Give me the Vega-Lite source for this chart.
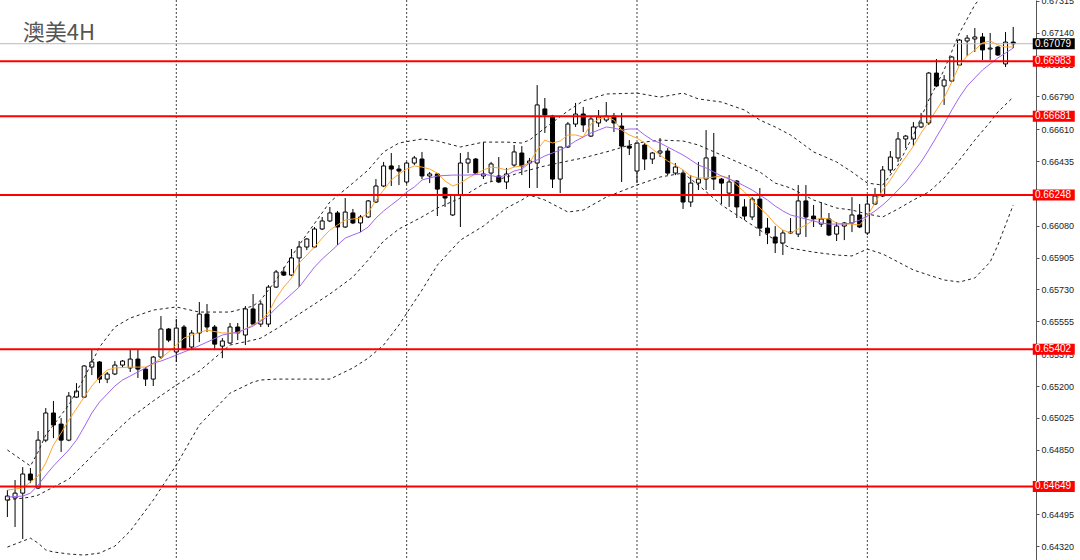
{
  "$schema": "https://vega.github.io/schema/vega-lite/v6.json",
  "width": 1036,
  "height": 560,
  "autosize": {"type": "none"},
  "padding": {"left": 0, "top": 0, "right": 44, "bottom": 0},
  "background": "white",
  "config": {"view": {"stroke": null}},
  "resolve": {"axis": {"y": "independent", "x": "independent"}},
  "datasets": {
    "candles": [
      {"i":0,"o":0.64574,"h":0.64629,"l":0.64481,"c":0.64596},
      {"i":1,"o":0.64585,"h":0.64684,"l":0.64426,"c":0.64612},
      {"i":2,"o":0.64612,"h":0.64755,"l":0.64360,"c":0.64717},
      {"i":3,"o":0.64717,"h":0.64750,"l":0.64667,"c":0.64684},
      {"i":4,"o":0.64640,"h":0.64953,"l":0.64634,"c":0.64903},
      {"i":5,"o":0.64903,"h":0.65079,"l":0.64892,"c":0.65052},
      {"i":6,"o":0.65052,"h":0.65118,"l":0.64914,"c":0.64986},
      {"i":7,"o":0.64991,"h":0.65024,"l":0.64838,"c":0.64903},
      {"i":8,"o":0.64903,"h":0.65167,"l":0.64897,"c":0.65145},
      {"i":9,"o":0.65139,"h":0.65216,"l":0.65134,"c":0.65172},
      {"i":10,"o":0.65139,"h":0.65315,"l":0.65134,"c":0.65310},
      {"i":11,"o":0.65304,"h":0.65403,"l":0.65260,"c":0.65332},
      {"i":12,"o":0.65332,"h":0.65337,"l":0.65216,"c":0.65238},
      {"i":13,"o":0.65238,"h":0.65277,"l":0.65216,"c":0.65266},
      {"i":14,"o":0.65266,"h":0.65337,"l":0.65260,"c":0.65315},
      {"i":15,"o":0.65315,"h":0.65343,"l":0.65304,"c":0.65337},
      {"i":16,"o":0.65299,"h":0.65403,"l":0.65277,"c":0.65348},
      {"i":17,"o":0.65348,"h":0.65403,"l":0.65244,"c":0.65293},
      {"i":18,"o":0.65293,"h":0.65304,"l":0.65200,"c":0.65238},
      {"i":19,"o":0.65238,"h":0.65365,"l":0.65200,"c":0.65359},
      {"i":20,"o":0.65359,"h":0.65584,"l":0.65348,"c":0.65513},
      {"i":21,"o":0.65513,"h":0.65518,"l":0.65441,"c":0.65452},
      {"i":22,"o":0.65387,"h":0.65568,"l":0.65332,"c":0.65518},
      {"i":23,"o":0.65524,"h":0.65535,"l":0.65397,"c":0.65403},
      {"i":24,"o":0.65414,"h":0.65507,"l":0.65397,"c":0.65491},
      {"i":25,"o":0.65491,"h":0.65661,"l":0.65441,"c":0.65595},
      {"i":26,"o":0.65595,"h":0.65650,"l":0.65496,"c":0.65524},
      {"i":27,"o":0.65524,"h":0.65535,"l":0.65397,"c":0.65430},
      {"i":28,"o":0.65419,"h":0.65463,"l":0.65353,"c":0.65447},
      {"i":29,"o":0.65436,"h":0.65546,"l":0.65430,"c":0.65524},
      {"i":30,"o":0.65524,"h":0.65546,"l":0.65452,"c":0.65491},
      {"i":31,"o":0.65480,"h":0.65639,"l":0.65425,"c":0.65623},
      {"i":32,"o":0.65623,"h":0.65705,"l":0.65535,"c":0.65540},
      {"i":33,"o":0.65540,"h":0.65667,"l":0.65524,"c":0.65650},
      {"i":34,"o":0.65540,"h":0.65754,"l":0.65524,"c":0.65743},
      {"i":35,"o":0.65743,"h":0.65837,"l":0.65738,"c":0.65826},
      {"i":36,"o":0.65826,"h":0.65853,"l":0.65804,"c":0.65809},
      {"i":37,"o":0.65809,"h":0.65952,"l":0.65804,"c":0.65903},
      {"i":38,"o":0.65903,"h":0.65996,"l":0.65743,"c":0.65963},
      {"i":39,"o":0.65963,"h":0.66012,"l":0.65946,"c":0.66007},
      {"i":40,"o":0.65963,"h":0.66073,"l":0.65957,"c":0.66062},
      {"i":41,"o":0.66062,"h":0.66128,"l":0.66056,"c":0.66106},
      {"i":42,"o":0.66106,"h":0.66183,"l":0.66100,"c":0.66150},
      {"i":43,"o":0.66150,"h":0.66161,"l":0.65974,"c":0.66073},
      {"i":44,"o":0.66073,"h":0.66232,"l":0.66068,"c":0.66155},
      {"i":45,"o":0.66150,"h":0.66172,"l":0.66089,"c":0.66095},
      {"i":46,"o":0.66095,"h":0.66139,"l":0.66045,"c":0.66128},
      {"i":47,"o":0.66128,"h":0.66221,"l":0.66122,"c":0.66216},
      {"i":48,"o":0.66210,"h":0.66336,"l":0.66205,"c":0.66298},
      {"i":49,"o":0.66298,"h":0.66430,"l":0.66292,"c":0.66408},
      {"i":50,"o":0.66408,"h":0.66479,"l":0.66298,"c":0.66391},
      {"i":51,"o":0.66391,"h":0.66413,"l":0.66303,"c":0.66380},
      {"i":52,"o":0.66320,"h":0.66430,"l":0.66309,"c":0.66424},
      {"i":53,"o":0.66424,"h":0.66463,"l":0.66413,"c":0.66452},
      {"i":54,"o":0.66446,"h":0.66485,"l":0.66336,"c":0.66353},
      {"i":55,"o":0.66353,"h":0.66375,"l":0.66314,"c":0.66364},
      {"i":56,"o":0.66364,"h":0.66369,"l":0.66133,"c":0.66281},
      {"i":57,"o":0.66287,"h":0.66292,"l":0.66183,"c":0.66232},
      {"i":58,"o":0.66139,"h":0.66254,"l":0.66133,"c":0.66248},
      {"i":59,"o":0.66248,"h":0.66479,"l":0.66073,"c":0.66424},
      {"i":60,"o":0.66424,"h":0.66485,"l":0.66369,"c":0.66446},
      {"i":61,"o":0.66446,"h":0.66452,"l":0.66364,"c":0.66369},
      {"i":62,"o":0.66353,"h":0.66539,"l":0.66336,"c":0.66364},
      {"i":63,"o":0.66369,"h":0.66430,"l":0.66320,"c":0.66419},
      {"i":64,"o":0.66353,"h":0.66457,"l":0.66314,"c":0.66320},
      {"i":65,"o":0.66320,"h":0.66397,"l":0.66281,"c":0.66364},
      {"i":66,"o":0.66413,"h":0.66523,"l":0.66402,"c":0.66485},
      {"i":67,"o":0.66479,"h":0.66517,"l":0.66358,"c":0.66408},
      {"i":68,"o":0.66424,"h":0.66452,"l":0.66287,"c":0.66435},
      {"i":69,"o":0.66424,"h":0.66852,"l":0.66287,"c":0.66743},
      {"i":70,"o":0.66721,"h":0.66781,"l":0.66589,"c":0.66688},
      {"i":71,"o":0.66682,"h":0.66688,"l":0.66287,"c":0.66336},
      {"i":72,"o":0.66336,"h":0.66512,"l":0.66259,"c":0.66512},
      {"i":73,"o":0.66512,"h":0.66649,"l":0.66506,"c":0.66638},
      {"i":74,"o":0.66638,"h":0.66754,"l":0.66622,"c":0.66693},
      {"i":75,"o":0.66693,"h":0.66732,"l":0.66594,"c":0.66633},
      {"i":76,"o":0.66572,"h":0.66682,"l":0.66567,"c":0.66666},
      {"i":77,"o":0.66644,"h":0.66715,"l":0.66622,"c":0.66677},
      {"i":78,"o":0.66660,"h":0.66759,"l":0.66649,"c":0.66682},
      {"i":79,"o":0.66682,"h":0.66699,"l":0.66594,"c":0.66644},
      {"i":80,"o":0.66627,"h":0.66699,"l":0.66320,"c":0.66517},
      {"i":81,"o":0.66517,"h":0.66550,"l":0.66468,"c":0.66506},
      {"i":82,"o":0.66380,"h":0.66534,"l":0.66314,"c":0.66534},
      {"i":83,"o":0.66523,"h":0.66534,"l":0.66386,"c":0.66446},
      {"i":84,"o":0.66446,"h":0.66485,"l":0.66419,"c":0.66479},
      {"i":85,"o":0.66479,"h":0.66561,"l":0.66457,"c":0.66490},
      {"i":86,"o":0.66490,"h":0.66506,"l":0.66358,"c":0.66369},
      {"i":87,"o":0.66369,"h":0.66424,"l":0.66358,"c":0.66402},
      {"i":88,"o":0.66369,"h":0.66386,"l":0.66172,"c":0.66210},
      {"i":89,"o":0.66210,"h":0.66358,"l":0.66183,"c":0.66314},
      {"i":90,"o":0.66314,"h":0.66430,"l":0.66276,"c":0.66336},
      {"i":91,"o":0.66336,"h":0.66605,"l":0.66276,"c":0.66452},
      {"i":92,"o":0.66457,"h":0.66589,"l":0.66276,"c":0.66336},
      {"i":93,"o":0.66336,"h":0.66342,"l":0.66199,"c":0.66314},
      {"i":94,"o":0.66259,"h":0.66358,"l":0.66183,"c":0.66320},
      {"i":95,"o":0.66325,"h":0.66331,"l":0.66122,"c":0.66183},
      {"i":96,"o":0.66183,"h":0.66226,"l":0.66111,"c":0.66133},
      {"i":97,"o":0.66128,"h":0.66237,"l":0.66111,"c":0.66226},
      {"i":98,"o":0.66226,"h":0.66287,"l":0.66023,"c":0.66067},
      {"i":99,"o":0.66067,"h":0.66122,"l":0.65979,"c":0.66040},
      {"i":100,"o":0.66018,"h":0.66078,"l":0.65930,"c":0.65985},
      {"i":101,"o":0.65985,"h":0.66056,"l":0.65919,"c":0.66040},
      {"i":102,"o":0.66040,"h":0.66122,"l":0.66034,"c":0.66045},
      {"i":103,"o":0.66034,"h":0.66303,"l":0.66018,"c":0.66216},
      {"i":104,"o":0.66216,"h":0.66303,"l":0.66018,"c":0.66128},
      {"i":105,"o":0.66133,"h":0.66194,"l":0.66073,"c":0.66117},
      {"i":106,"o":0.66089,"h":0.66210,"l":0.66073,"c":0.66117},
      {"i":107,"o":0.66117,"h":0.66150,"l":0.66023,"c":0.66029},
      {"i":108,"o":0.66034,"h":0.66100,"l":0.65996,"c":0.66078},
      {"i":109,"o":0.66078,"h":0.66100,"l":0.66001,"c":0.66095},
      {"i":110,"o":0.66095,"h":0.66237,"l":0.66045,"c":0.66139},
      {"i":111,"o":0.66139,"h":0.66199,"l":0.66067,"c":0.66073},
      {"i":112,"o":0.66040,"h":0.66248,"l":0.66029,"c":0.66199},
      {"i":113,"o":0.66199,"h":0.66287,"l":0.66194,"c":0.66243},
      {"i":114,"o":0.66243,"h":0.66408,"l":0.66237,"c":0.66386},
      {"i":115,"o":0.66386,"h":0.66490,"l":0.66369,"c":0.66457},
      {"i":116,"o":0.66452,"h":0.66594,"l":0.66430,"c":0.66556},
      {"i":117,"o":0.66556,"h":0.66578,"l":0.66506,"c":0.66572},
      {"i":118,"o":0.66556,"h":0.66649,"l":0.66517,"c":0.66622},
      {"i":119,"o":0.66622,"h":0.66699,"l":0.66616,"c":0.66644},
      {"i":120,"o":0.66644,"h":0.66924,"l":0.66633,"c":0.66918},
      {"i":121,"o":0.66918,"h":0.66995,"l":0.66841,"c":0.66847},
      {"i":122,"o":0.66847,"h":0.66907,"l":0.66743,"c":0.66880},
      {"i":123,"o":0.66874,"h":0.67012,"l":0.66869,"c":0.67006},
      {"i":124,"o":0.66962,"h":0.67105,"l":0.66957,"c":0.67099},
      {"i":125,"o":0.67094,"h":0.67127,"l":0.67012,"c":0.67110},
      {"i":126,"o":0.67105,"h":0.67165,"l":0.67034,"c":0.67116},
      {"i":127,"o":0.67116,"h":0.67138,"l":0.66990,"c":0.67045},
      {"i":128,"o":0.67050,"h":0.67138,"l":0.66990,"c":0.67055},
      {"i":129,"o":0.67061,"h":0.67066,"l":0.67012,"c":0.67017},
      {"i":130,"o":0.66968,"h":0.67143,"l":0.66951,"c":0.67088},
      {"i":131,"o":0.67088,"h":0.67171,"l":0.67055,"c":0.67079}
    ],
    "fast": [
      {"i":0,"v":0.64629},{"i":2,"v":0.64640},{"i":4,"v":0.64706},{"i":5,"v":0.64777},{"i":6,"v":0.64876},{"i":7,"v":0.64942},{"i":8,"v":0.65013},{"i":10,"v":0.65139},{"i":11,"v":0.65200},{"i":12,"v":0.65249},{"i":13,"v":0.65288},{"i":14,"v":0.65299},{"i":16,"v":0.65304},{"i":18,"v":0.65304},{"i":19,"v":0.65321},{"i":20,"v":0.65353},{"i":21,"v":0.65387},{"i":22,"v":0.65425},{"i":23,"v":0.65463},{"i":24,"v":0.65480},{"i":26,"v":0.65507},{"i":28,"v":0.65491},{"i":30,"v":0.65491},{"i":32,"v":0.65535},{"i":33,"v":0.65562},{"i":34,"v":0.65601},{"i":35,"v":0.65683},{"i":36,"v":0.65743},{"i":37,"v":0.65793},{"i":38,"v":0.65875},{"i":40,"v":0.65963},{"i":41,"v":0.66012},{"i":42,"v":0.66056},{"i":43,"v":0.66084},{"i":44,"v":0.66111},{"i":45,"v":0.66117},{"i":46,"v":0.66122},{"i":47,"v":0.66150},{"i":48,"v":0.66221},{"i":49,"v":0.66276},{"i":50,"v":0.66331},{"i":51,"v":0.66364},{"i":52,"v":0.66391},{"i":53,"v":0.66408},{"i":54,"v":0.66402},{"i":55,"v":0.66391},{"i":56,"v":0.66369},{"i":57,"v":0.66325},{"i":58,"v":0.66298},{"i":59,"v":0.66314},{"i":60,"v":0.66342},{"i":61,"v":0.66364},{"i":62,"v":0.66386},{"i":63,"v":0.66402},{"i":64,"v":0.66397},{"i":65,"v":0.66386},{"i":66,"v":0.66402},{"i":67,"v":0.66408},{"i":68,"v":0.66424},{"i":69,"v":0.66496},{"i":70,"v":0.66550},{"i":71,"v":0.66534},{"i":72,"v":0.66545},{"i":73,"v":0.66578},{"i":74,"v":0.66578},{"i":75,"v":0.66567},{"i":76,"v":0.66638},{"i":77,"v":0.66666},{"i":78,"v":0.66677},{"i":79,"v":0.66660},{"i":80,"v":0.66605},{"i":81,"v":0.66578},{"i":82,"v":0.66561},{"i":83,"v":0.66534},{"i":84,"v":0.66501},{"i":85,"v":0.66468},{"i":86,"v":0.66435},{"i":87,"v":0.66413},{"i":88,"v":0.66386},{"i":89,"v":0.66353},{"i":90,"v":0.66342},{"i":91,"v":0.66342},{"i":92,"v":0.66347},{"i":93,"v":0.66353},{"i":94,"v":0.66342},{"i":95,"v":0.66303},{"i":96,"v":0.66265},{"i":97,"v":0.66221},{"i":98,"v":0.66177},{"i":99,"v":0.66139},{"i":100,"v":0.66089},{"i":101,"v":0.66056},{"i":102,"v":0.66040},{"i":103,"v":0.66062},{"i":104,"v":0.66084},{"i":105,"v":0.66111},{"i":106,"v":0.66122},{"i":107,"v":0.66117},{"i":108,"v":0.66095},{"i":109,"v":0.66089},{"i":110,"v":0.66089},{"i":111,"v":0.66084},{"i":112,"v":0.66133},{"i":113,"v":0.66205},{"i":114,"v":0.66276},{"i":115,"v":0.66331},{"i":116,"v":0.66397},{"i":117,"v":0.66457},{"i":118,"v":0.66517},{"i":119,"v":0.66589},{"i":120,"v":0.66649},{"i":121,"v":0.66715},{"i":122,"v":0.66781},{"i":123,"v":0.66869},{"i":124,"v":0.66962},{"i":125,"v":0.67012},{"i":126,"v":0.67045},{"i":127,"v":0.67083},{"i":128,"v":0.67094},{"i":129,"v":0.67072},{"i":130,"v":0.67061},{"i":131,"v":0.67061}
    ],
    "slow": [
      {"i":0,"v":0.64590},{"i":2,"v":0.64596},{"i":3,"v":0.64612},{"i":4,"v":0.64656},{"i":5,"v":0.64711},{"i":6,"v":0.64761},{"i":7,"v":0.64805},{"i":8,"v":0.64849},{"i":9,"v":0.64903},{"i":10,"v":0.64975},{"i":11,"v":0.65052},{"i":12,"v":0.65112},{"i":13,"v":0.65156},{"i":14,"v":0.65200},{"i":15,"v":0.65233},{"i":16,"v":0.65255},{"i":17,"v":0.65277},{"i":18,"v":0.65299},{"i":19,"v":0.65326},{"i":20,"v":0.65337},{"i":21,"v":0.65353},{"i":22,"v":0.65370},{"i":23,"v":0.65387},{"i":24,"v":0.65403},{"i":26,"v":0.65441},{"i":28,"v":0.65480},{"i":30,"v":0.65496},{"i":32,"v":0.65529},{"i":34,"v":0.65584},{"i":35,"v":0.65628},{"i":36,"v":0.65667},{"i":37,"v":0.65705},{"i":38,"v":0.65743},{"i":39,"v":0.65798},{"i":40,"v":0.65853},{"i":41,"v":0.65897},{"i":42,"v":0.65935},{"i":43,"v":0.65974},{"i":44,"v":0.66012},{"i":45,"v":0.66029},{"i":46,"v":0.66045},{"i":47,"v":0.66073},{"i":48,"v":0.66122},{"i":49,"v":0.66161},{"i":50,"v":0.66194},{"i":51,"v":0.66226},{"i":52,"v":0.66265},{"i":53,"v":0.66292},{"i":54,"v":0.66331},{"i":55,"v":0.66342},{"i":56,"v":0.66353},{"i":58,"v":0.66358},{"i":60,"v":0.66358},{"i":62,"v":0.66364},{"i":64,"v":0.66347},{"i":65,"v":0.66358},{"i":66,"v":0.66380},{"i":67,"v":0.66391},{"i":68,"v":0.66424},{"i":69,"v":0.66441},{"i":70,"v":0.66463},{"i":71,"v":0.66479},{"i":72,"v":0.66496},{"i":73,"v":0.66517},{"i":74,"v":0.66545},{"i":75,"v":0.66567},{"i":76,"v":0.66589},{"i":77,"v":0.66605},{"i":78,"v":0.66622},{"i":79,"v":0.66616},{"i":80,"v":0.66605},{"i":81,"v":0.66611},{"i":82,"v":0.66611},{"i":83,"v":0.66578},{"i":84,"v":0.66550},{"i":85,"v":0.66534},{"i":86,"v":0.66512},{"i":87,"v":0.66490},{"i":88,"v":0.66468},{"i":89,"v":0.66441},{"i":90,"v":0.66413},{"i":91,"v":0.66397},{"i":92,"v":0.66375},{"i":93,"v":0.66353},{"i":94,"v":0.66336},{"i":95,"v":0.66320},{"i":96,"v":0.66298},{"i":97,"v":0.66276},{"i":98,"v":0.66248},{"i":99,"v":0.66221},{"i":100,"v":0.66188},{"i":101,"v":0.66161},{"i":102,"v":0.66139},{"i":103,"v":0.66128},{"i":104,"v":0.66117},{"i":105,"v":0.66106},{"i":106,"v":0.66095},{"i":107,"v":0.66089},{"i":108,"v":0.66089},{"i":109,"v":0.66089},{"i":110,"v":0.66095},{"i":111,"v":0.66111},{"i":112,"v":0.66133},{"i":113,"v":0.66161},{"i":114,"v":0.66194},{"i":115,"v":0.66232},{"i":116,"v":0.66276},{"i":117,"v":0.66320},{"i":118,"v":0.66375},{"i":119,"v":0.66430},{"i":120,"v":0.66496},{"i":121,"v":0.66567},{"i":122,"v":0.66638},{"i":123,"v":0.66715},{"i":124,"v":0.66786},{"i":125,"v":0.66847},{"i":126,"v":0.66891},{"i":127,"v":0.66935},{"i":128,"v":0.66968},{"i":129,"v":0.67001},{"i":130,"v":0.67028},{"i":131,"v":0.67055}
    ],
    "bands": [
      {"i":0,"u":0.64849,"m":0.64574,"l":0.64316},
      {"i":3,"u":0.64761,"m":0.64590,"l":0.64365},
      {"i":4,"u":0.64838,"m":0.64601,"l":0.64338},
      {"i":5,"u":0.64931,"m":0.64623,"l":0.64300},
      {"i":6,"u":0.64986,"m":0.64645,"l":0.64289},
      {"i":8,"u":0.65096,"m":0.64689,"l":0.64278},
      {"i":10,"u":0.65244,"m":0.64772,"l":0.64272},
      {"i":12,"u":0.65414,"m":0.64859,"l":0.64283},
      {"i":14,"u":0.65524,"m":0.64947,"l":0.64321},
      {"i":16,"u":0.65573,"m":0.65024,"l":0.64404},
      {"i":19,"u":0.65617,"m":0.65118,"l":0.64574},
      {"i":22,"u":0.65634,"m":0.65205,"l":0.64766},
      {"i":25,"u":0.65606,"m":0.65282,"l":0.64986},
      {"i":29,"u":0.65606,"m":0.65425,"l":0.65161},
      {"i":32,"u":0.65639,"m":0.65452,"l":0.65222},
      {"i":33,"u":0.65672,"m":0.65463,"l":0.65233},
      {"i":35,"u":0.65782,"m":0.65513,"l":0.65238},
      {"i":38,"u":0.65974,"m":0.65595,"l":0.65238},
      {"i":42,"u":0.66210,"m":0.65705,"l":0.65238},
      {"i":45,"u":0.66314,"m":0.65798,"l":0.65299},
      {"i":47,"u":0.66386,"m":0.65892,"l":0.65353},
      {"i":49,"u":0.66485,"m":0.65996,"l":0.65425},
      {"i":51,"u":0.66534,"m":0.66062,"l":0.65535},
      {"i":54,"u":0.66556,"m":0.66128,"l":0.65727},
      {"i":56,"u":0.66545,"m":0.66177,"l":0.65864},
      {"i":59,"u":0.66512,"m":0.66232,"l":0.66001},
      {"i":62,"u":0.66539,"m":0.66309,"l":0.66078},
      {"i":65,"u":0.66539,"m":0.66347,"l":0.66177},
      {"i":67,"u":0.66534,"m":0.66375,"l":0.66221},
      {"i":68,"u":0.66550,"m":0.66386,"l":0.66248},
      {"i":70,"u":0.66616,"m":0.66408,"l":0.66221},
      {"i":73,"u":0.66710,"m":0.66435,"l":0.66155},
      {"i":75,"u":0.66765,"m":0.66452,"l":0.66166},
      {"i":78,"u":0.66803,"m":0.66485,"l":0.66237},
      {"i":82,"u":0.66808,"m":0.66534,"l":0.66303},
      {"i":85,"u":0.66786,"m":0.66550,"l":0.66347},
      {"i":88,"u":0.66808,"m":0.66545,"l":0.66369},
      {"i":90,"u":0.66776,"m":0.66523,"l":0.66303},
      {"i":93,"u":0.66759,"m":0.66468,"l":0.66194},
      {"i":96,"u":0.66715,"m":0.66413,"l":0.66111},
      {"i":98,"u":0.66660,"m":0.66375,"l":0.66056},
      {"i":100,"u":0.66622,"m":0.66314,"l":0.66001},
      {"i":102,"u":0.66578,"m":0.66287,"l":0.65957},
      {"i":105,"u":0.66485,"m":0.66221,"l":0.65935},
      {"i":108,"u":0.66430,"m":0.66177,"l":0.65919},
      {"i":110,"u":0.66375,"m":0.66166,"l":0.65914},
      {"i":112,"u":0.66314,"m":0.66144,"l":0.65952},
      {"i":114,"u":0.66303,"m":0.66128,"l":0.65925},
      {"i":116,"u":0.66413,"m":0.66172,"l":0.65881},
      {"i":118,"u":0.66578,"m":0.66221,"l":0.65837},
      {"i":120,"u":0.66770,"m":0.66265,"l":0.65809},
      {"i":122,"u":0.66935,"m":0.66342,"l":0.65782},
      {"i":124,"u":0.67138,"m":0.66441,"l":0.65771},
      {"i":126,"u":0.67292,"m":0.66550,"l":0.65793},
      {"i":128,"u":0.67401,"m":0.66649,"l":0.65881},
      {"i":129,"u":0.67429,"m":0.66704,"l":0.65974},
      {"i":131,"u":0.67456,"m":0.66786,"l":0.66194}
    ],
    "levels": [{"p":0.66983},{"p":0.66681},{"p":0.66248},{"p":0.65402},{"p":0.64649}],
    "last": [{"p":0.67079}],
    "grid": [{"i":22},{"i":52},{"i":82},{"i":112}],
    "ticks": [{"p":0.67315},{"p":0.67140},{"p":0.66965},{"p":0.66790},{"p":0.66610},{"p":0.66435},{"p":0.66080},{"p":0.65905},{"p":0.65730},{"p":0.65555},{"p":0.65375},{"p":0.65200},{"p":0.65025},{"p":0.64850},{"p":0.64495},{"p":0.64320}]
  },
  "layer": [
    {
      "data": {"name": "ticks"},
      "mark": {"type": "rule", "opacity": 0},
      "encoding": {
        "y": {"field": "p", "type": "quantitative", "scale": {"domain": [0.64245, 0.67319], "nice": false, "zero": false},
          "axis": {"orient": "right", "title": null, "grid": false, "format": ".5f",
            "values": [0.67315, 0.67140, 0.66965, 0.66790, 0.66610, 0.66435, 0.66080, 0.65905, 0.65730, 0.65555, 0.65375, 0.65200, 0.65025, 0.64850, 0.64495, 0.64320],
            "labelFont": "Liberation Sans", "labelFontSize": 9, "labelColor": "#222222", "tickColor": "#555555", "domainColor": "#555555",
            "tickSize": 3, "labelPadding": 2, "labelOverlap": false, "labelBound": false, "labelFlush": false}}
      }
    },
    {
      "data": {"name": "grid"},
      "mark": {"type": "rule", "strokeDash": [2, 2], "color": "#444444", "strokeWidth": 1},
      "encoding": {
        "x": {"field": "i", "type": "quantitative", "scale": {"domain": [-0.3096, 133.316], "nice": false, "zero": false}, "axis": null}
      }
    },
    {
      "data": {"name": "candles"},
      "mark": {"type": "rule", "color": "#000000", "strokeWidth": 1},
      "encoding": {
        "x": {"field": "i", "type": "quantitative", "scale": {"domain": [-0.3096, 133.316], "nice": false, "zero": false}, "axis": null},
        "y": {"field": "h", "type": "quantitative", "scale": {"domain": [0.64245, 0.67319], "nice": false, "zero": false}, "axis": null},
        "y2": {"field": "l"}
      }
    },
    {
      "data": {"name": "candles"},
      "mark": {"type": "bar", "width": 4, "stroke": "#000000", "strokeWidth": 1},
      "encoding": {
        "x": {"field": "i", "type": "quantitative", "scale": {"domain": [-0.3096, 133.316], "nice": false, "zero": false}, "axis": null},
        "y": {"field": "o", "type": "quantitative", "scale": {"domain": [0.64245, 0.67319], "nice": false, "zero": false}, "axis": null},
        "y2": {"field": "c"},
        "fill": {"condition": {"test": "datum.c < datum.o", "value": "#000000"}, "value": "#ffffff"}
      }
    },
    {
      "data": {"name": "bands"},
      "mark": {"type": "line", "strokeDash": [3, 3], "color": "#222222", "strokeWidth": 1},
      "encoding": {
        "x": {"field": "i", "type": "quantitative", "scale": {"domain": [-0.3096, 133.316], "nice": false, "zero": false}, "axis": null},
        "y": {"field": "u", "type": "quantitative", "scale": {"domain": [0.64245, 0.67319], "nice": false, "zero": false}, "axis": null}
      }
    },
    {
      "data": {"name": "bands"},
      "mark": {"type": "line", "strokeDash": [3, 3], "color": "#222222", "strokeWidth": 1},
      "encoding": {
        "x": {"field": "i", "type": "quantitative", "scale": {"domain": [-0.3096, 133.316], "nice": false, "zero": false}, "axis": null},
        "y": {"field": "m", "type": "quantitative", "scale": {"domain": [0.64245, 0.67319], "nice": false, "zero": false}, "axis": null}
      }
    },
    {
      "data": {"name": "bands"},
      "mark": {"type": "line", "strokeDash": [3, 3], "color": "#222222", "strokeWidth": 1},
      "encoding": {
        "x": {"field": "i", "type": "quantitative", "scale": {"domain": [-0.3096, 133.316], "nice": false, "zero": false}, "axis": null},
        "y": {"field": "l", "type": "quantitative", "scale": {"domain": [0.64245, 0.67319], "nice": false, "zero": false}, "axis": null}
      }
    },
    {
      "data": {"name": "fast"},
      "mark": {"type": "line", "color": "#FFA62B", "strokeWidth": 1},
      "encoding": {
        "x": {"field": "i", "type": "quantitative", "scale": {"domain": [-0.3096, 133.316], "nice": false, "zero": false}, "axis": null},
        "y": {"field": "v", "type": "quantitative", "scale": {"domain": [0.64245, 0.67319], "nice": false, "zero": false}, "axis": null}
      }
    },
    {
      "data": {"name": "slow"},
      "mark": {"type": "line", "color": "#A066F0", "strokeWidth": 1},
      "encoding": {
        "x": {"field": "i", "type": "quantitative", "scale": {"domain": [-0.3096, 133.316], "nice": false, "zero": false}, "axis": null},
        "y": {"field": "v", "type": "quantitative", "scale": {"domain": [0.64245, 0.67319], "nice": false, "zero": false}, "axis": null}
      }
    },
    {
      "data": {"name": "last"},
      "mark": {"type": "rule", "color": "#B4BCC4", "strokeWidth": 1},
      "encoding": {
        "y": {"field": "p", "type": "quantitative", "scale": {"domain": [0.64245, 0.67319], "nice": false, "zero": false}, "axis": null}
      }
    },
    {
      "data": {"name": "levels"},
      "mark": {"type": "rule", "color": "#FF0000", "strokeWidth": 2},
      "encoding": {
        "y": {"field": "p", "type": "quantitative", "scale": {"domain": [0.64245, 0.67319], "nice": false, "zero": false}, "axis": null}
      }
    },
    {
      "data": {"name": "levels"},
      "mark": {"type": "tick", "orient": "horizontal", "size": 42, "thickness": 11, "color": "#FF0000", "opacity": 1},
      "encoding": {
        "x": {"datum": 136.28, "type": "quantitative", "scale": {"domain": [-0.3096, 133.316], "nice": false, "zero": false}, "axis": null},
        "y": {"field": "p", "type": "quantitative", "scale": {"domain": [0.64245, 0.67319], "nice": false, "zero": false}, "axis": null}
      }
    },
    {
      "data": {"name": "levels"},
      "mark": {"type": "text", "align": "left", "baseline": "middle", "color": "#ffffff", "font": "Liberation Sans", "fontSize": 10},
      "encoding": {
        "x": {"datum": 133.83, "type": "quantitative", "scale": {"domain": [-0.3096, 133.316], "nice": false, "zero": false}, "axis": null},
        "y": {"field": "p", "type": "quantitative", "scale": {"domain": [0.64245, 0.67319], "nice": false, "zero": false}, "axis": null},
        "text": {"field": "p", "type": "quantitative", "format": ".5f"}
      }
    },
    {
      "data": {"name": "last"},
      "mark": {"type": "tick", "orient": "horizontal", "size": 42, "thickness": 11, "color": "#000000", "opacity": 1},
      "encoding": {
        "x": {"datum": 136.28, "type": "quantitative", "scale": {"domain": [-0.3096, 133.316], "nice": false, "zero": false}, "axis": null},
        "y": {"field": "p", "type": "quantitative", "scale": {"domain": [0.64245, 0.67319], "nice": false, "zero": false}, "axis": null}
      }
    },
    {
      "data": {"name": "last"},
      "mark": {"type": "text", "align": "left", "baseline": "middle", "color": "#ffffff", "font": "Liberation Sans", "fontSize": 10},
      "encoding": {
        "x": {"datum": 133.83, "type": "quantitative", "scale": {"domain": [-0.3096, 133.316], "nice": false, "zero": false}, "axis": null},
        "y": {"field": "p", "type": "quantitative", "scale": {"domain": [0.64245, 0.67319], "nice": false, "zero": false}, "axis": null},
        "text": {"field": "p", "type": "quantitative", "format": ".5f"}
      }
    },
    {
      "data": {"values": [{"t": "澳美4H"}]},
      "mark": {"type": "text", "align": "left", "baseline": "alphabetic", "color": "#555555", "font": "Noto Sans CJK SC", "fontSize": 22},
      "encoding": {
        "x": {"datum": 2.0, "type": "quantitative", "scale": {"domain": [-0.3096, 133.316], "nice": false, "zero": false}, "axis": null},
        "y": {"datum": 0.67099, "type": "quantitative", "scale": {"domain": [0.64245, 0.67319], "nice": false, "zero": false}, "axis": null},
        "text": {"field": "t"}
      }
    }
  ]
}
